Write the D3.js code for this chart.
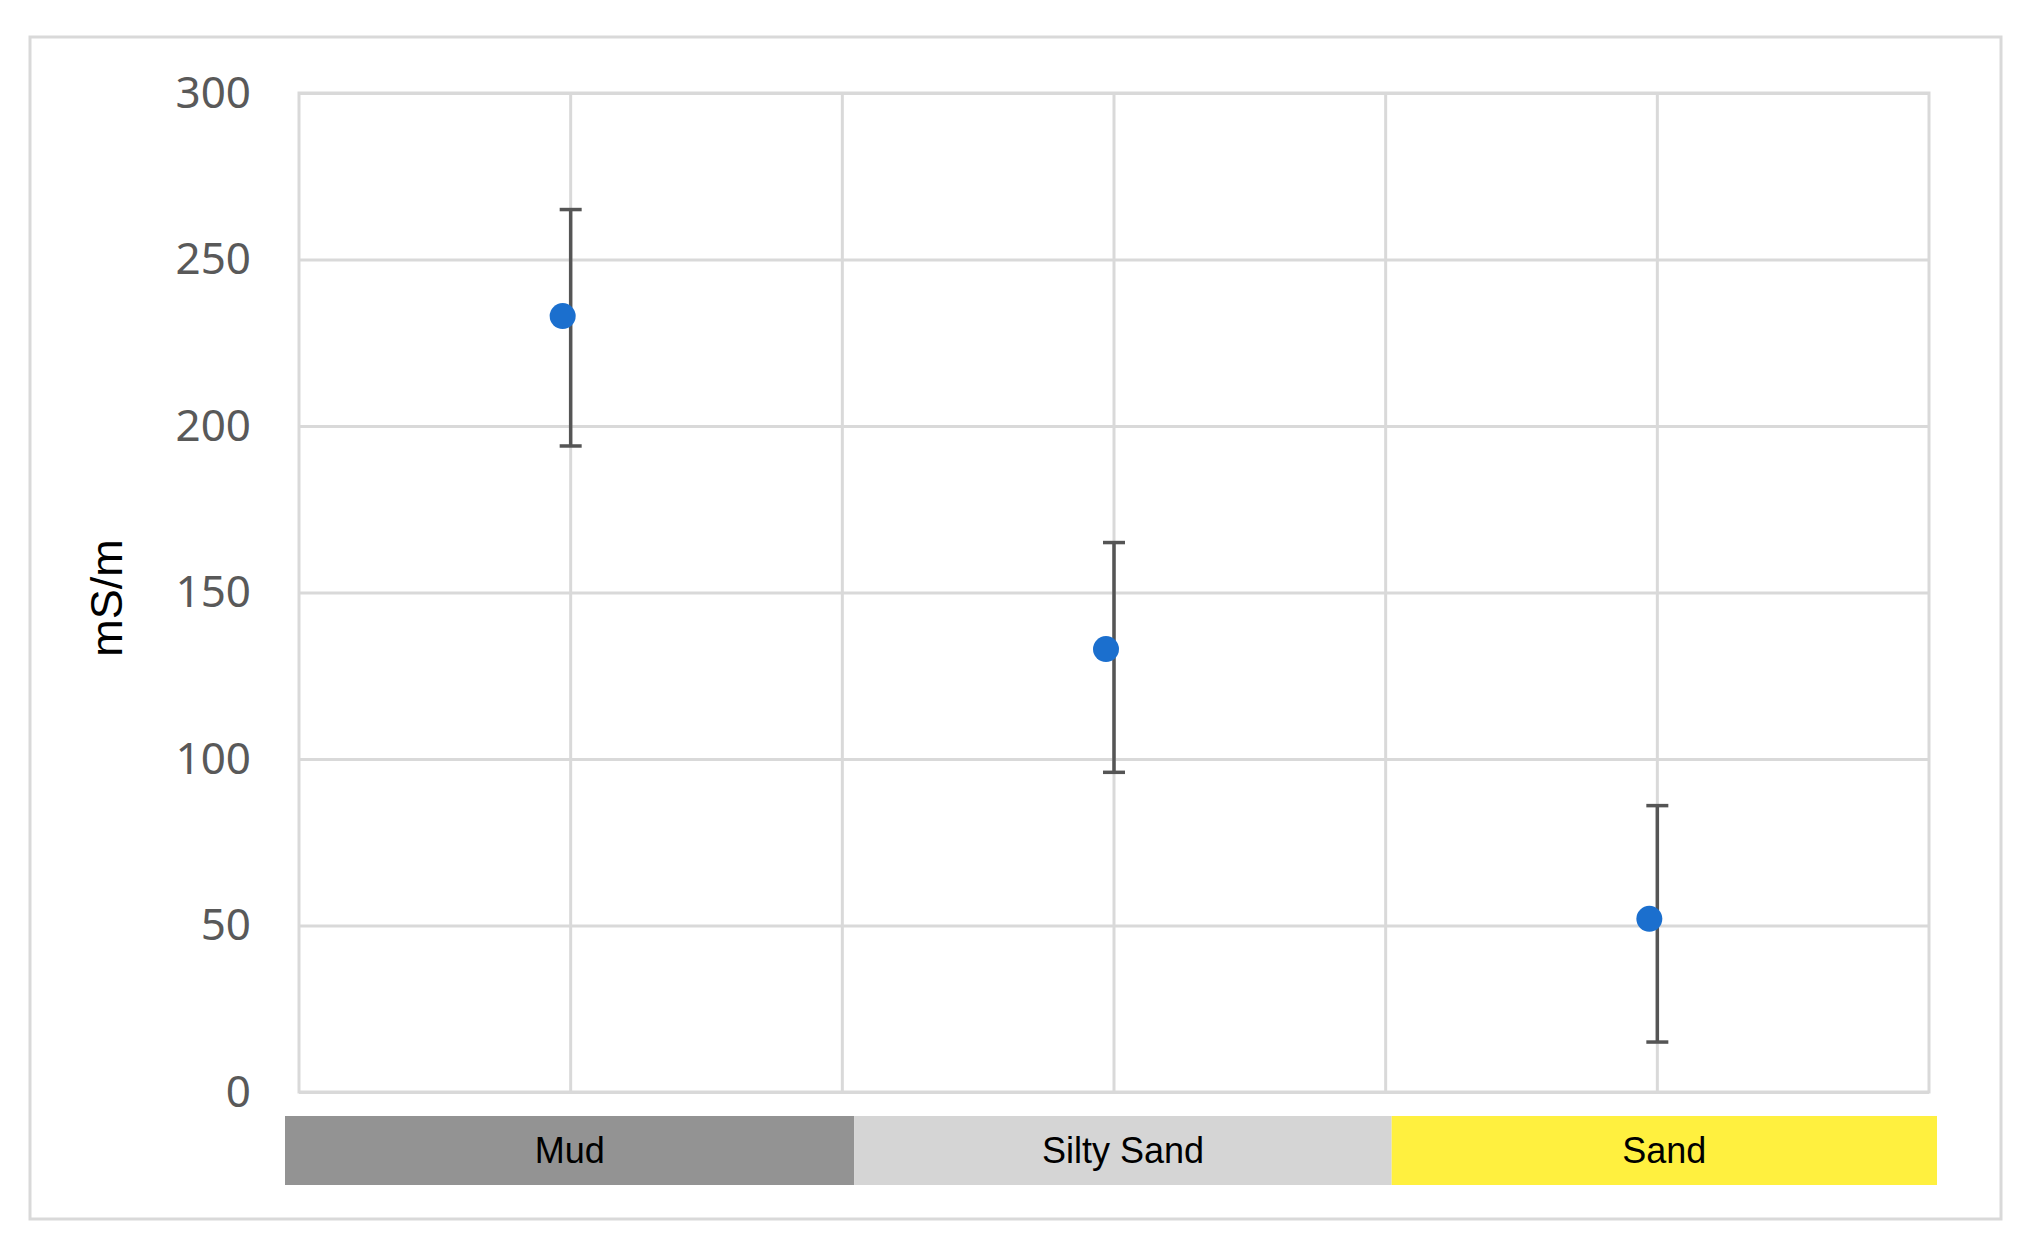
<!DOCTYPE html>
<html>
<head>
<meta charset="utf-8">
<script src="https://cdn.jsdelivr.net/npm/d3@7"></script>
<style>
  body { margin: 0; background: #fff; }
  svg { display: block; }
</style>
</head>
<body>
<svg id="chart" width="2022" height="1253"></svg>
<script>
// Data
const categories = ['Mud', 'Silty Sand', 'Sand'];
const means = [233, 133, 52];
const errLow = [194, 96, 15];
const errHigh = [265, 165, 86];
const yTicks = [0, 50, 100, 150, 200, 250, 300];
const bandColors = ['#939393', '#d5d5d5', '#fff03f'];

const plot = { left: 299, right: 1929, top: 93, bottom: 1092 };

const svg = d3.select('#chart');

// Outer frame
svg.append('rect')
  .attr('x', 30).attr('y', 37)
  .attr('width', 1971).attr('height', 1182)
  .style('fill', 'none')
  .style('stroke', '#d9d9d9')
  .style('stroke-width', 3);

const x = d3.scaleBand()
  .domain(categories)
  .range([plot.left, plot.right])
  .padding(0);

const y = d3.scaleLinear()
  .domain([0, 300])
  .range([plot.bottom, plot.top]);

// Horizontal gridlines + tick labels
const yAxis = d3.axisLeft(y)
  .tickValues(yTicks)
  .tickSize(-(plot.right - plot.left))
  .tickPadding(48);

const yG = svg.append('g')
  .attr('transform', `translate(${plot.left},0)`)
  .call(yAxis);
yG.select('.domain').remove();
yG.selectAll('.tick line')
  .style('stroke', '#d9d9d9')
  .style('stroke-width', 3);
yG.selectAll('.tick text')
  .style('font-family', '"Noto Sans", sans-serif')
  .style('font-size', '44px')
  .style('fill', '#595959');

// Vertical gridlines: band edges and band centres
const vLines = [];
categories.forEach((c, i) => {
  if (i > 0) vLines.push(x(c));
  vLines.push(x(c) + x.bandwidth() / 2);
});
svg.append('g').selectAll('line.vgrid')
  .data(vLines)
  .join('line')
  .attr('class', 'vgrid')
  .attr('x1', d => d).attr('x2', d => d)
  .attr('y1', plot.top).attr('y2', plot.bottom)
  .style('stroke', '#d9d9d9')
  .style('stroke-width', 3);

// Plot border
svg.append('rect')
  .attr('x', plot.left).attr('y', plot.top)
  .attr('width', plot.right - plot.left)
  .attr('height', plot.bottom - plot.top)
  .style('fill', 'none')
  .style('stroke', '#d9d9d9')
  .style('stroke-width', 3);

// Y axis title
svg.append('text')
  .attr('transform', 'translate(122,598) rotate(-90)')
  .attr('text-anchor', 'middle')
  .style('font-family', '"Liberation Sans", Arial, sans-serif')
  .style('font-size', '45px')
  .style('fill', '#000')
  .text('mS/m');

// Category bands under the axis (hand-placed strip, slightly off the grid)
const bandTop = 1116, bandBottom = 1185;
const edgeShift = [12, 6];
const bandEdges = categories.map((c, i) => {
  const x0 = i === 0 ? plot.left - 14 : x(c) + edgeShift[i - 1];
  const x1 = i === categories.length - 1 ? plot.right + 8 : x(c) + x.bandwidth() + edgeShift[i];
  return { c, i, x0, x1 };
});
const bands = svg.append('g').selectAll('g.band')
  .data(bandEdges)
  .join('g')
  .attr('class', 'band');
bands.append('rect')
  .attr('x', d => d.x0)
  .attr('y', bandTop)
  .attr('width', d => d.x1 - d.x0)
  .attr('height', bandBottom - bandTop)
  .style('fill', d => bandColors[d.i]);
bands.append('text')
  .attr('x', d => (d.x0 + d.x1) / 2)
  .attr('y', (bandTop + bandBottom) / 2)
  .attr('dy', '0.36em')
  .attr('text-anchor', 'middle')
  .style('font-family', '"Liberation Sans", Arial, sans-serif')
  .style('font-size', '36px')
  .style('fill', '#000')
  .text(d => d.c);

// Error bars
const cx = c => x(c) + x.bandwidth() / 2;
const errG = svg.append('g').selectAll('g.err')
  .data(categories)
  .join('g')
  .attr('class', 'err')
  .style('stroke', '#555555')
  .style('stroke-width', 3.5);
errG.append('line')
  .attr('x1', d => cx(d)).attr('x2', d => cx(d))
  .attr('y1', (d, i) => y(errHigh[i]))
  .attr('y2', (d, i) => y(errLow[i]));
errG.append('line')
  .attr('x1', d => cx(d) - 11).attr('x2', d => cx(d) + 11)
  .attr('y1', (d, i) => y(errHigh[i]))
  .attr('y2', (d, i) => y(errHigh[i]));
errG.append('line')
  .attr('x1', d => cx(d) - 11).attr('x2', d => cx(d) + 11)
  .attr('y1', (d, i) => y(errLow[i]))
  .attr('y2', (d, i) => y(errLow[i]));

// Mean points (sit slightly left of the bar, as in the source)
svg.append('g').selectAll('circle.pt')
  .data(categories)
  .join('circle')
  .attr('class', 'pt')
  .attr('cx', d => cx(d) - 8)
  .attr('cy', (d, i) => y(means[i]))
  .attr('r', 13)
  .style('fill', '#1b6fce');
</script>
</body>
</html>
